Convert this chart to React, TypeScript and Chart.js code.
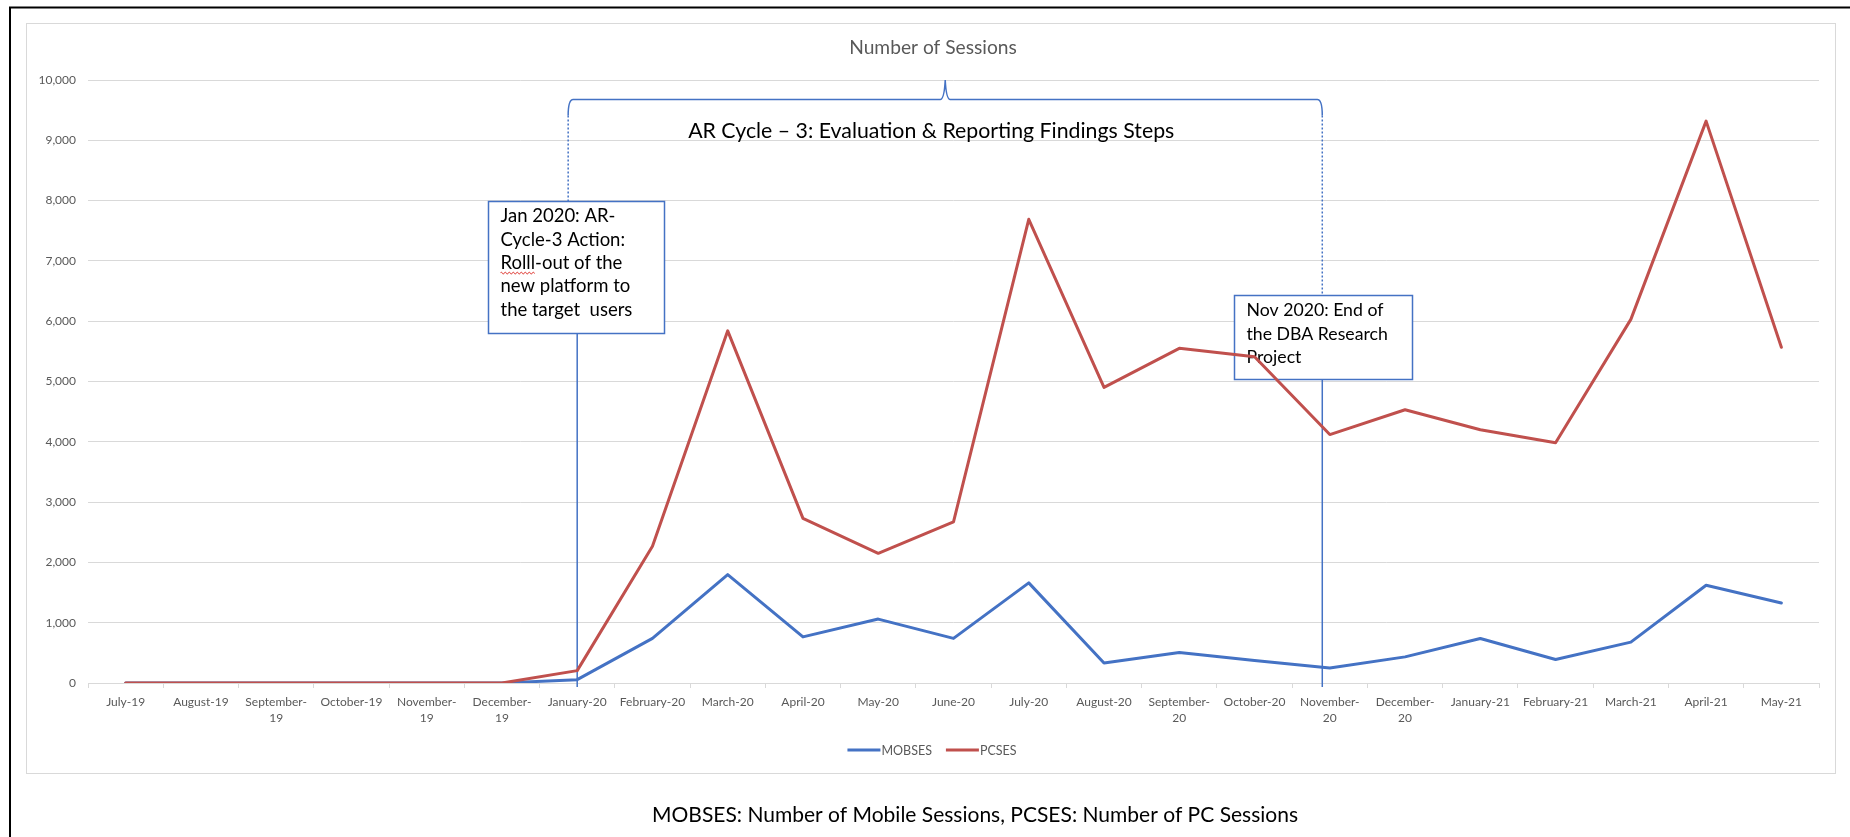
import React, { useEffect, useRef } from "react";
import { Chart, registerables } from "chart.js";

Chart.register(...registerables);

// Monthly categories (multi-line where the label wraps under the axis)
const months: (string | string[])[] = [
  "July-19", "August-19", ["September-", "19"], "October-19", ["November-", "19"], ["December-", "19"],
  "January-20", "February-20", "March-20", "April-20", "May-20", "June-20", "July-20", "August-20",
  ["September-", "20"], "October-20", ["November-", "20"], ["December-", "20"],
  "January-21", "February-21", "March-21", "April-21", "May-21",
];

// Mobile sessions per month
const mobses = [0, 0, 0, 0, 0, 0, 55, 740, 1797, 765, 1060, 740, 1660, 333, 505, 375, 250, 433, 739, 389, 678, 1621, 1328];
// PC sessions per month
const pcses = [0, 0, 0, 0, 0, 0, 205, 2268, 5840, 2730, 2150, 2672, 7690, 4902, 5550, 5410, 4120, 4531, 4199, 3984, 6030, 9318, 5568];

const seriesNames = ["MOBSES", "PCSES"];
const yMax = 10000;
const yStep = 1000;

const chartTitle = "Number of Sessions";
const caption = "MOBSES: Number of Mobile Sessions, PCSES: Number of PC Sessions";
const cycleLabel = "AR Cycle – 3: Evaluation & Reporting Findings Steps";
const rolloutNote = ["Jan 2020: AR-", "Cycle-3 Action:", "Rolll-out of the", "new platform to", "the target  users"];
const endNote = ["Nov 2020: End of", "the DBA Research", "Project"];

const FONT = "Lato, 'Open Sans', sans-serif";
const BLUE = "#4472C4";
const RED = "#C0504D";
const GRID = "#D9D9D9";
const TEXT_GRAY = "#595959";

const W = 1850;
const H = 837;

// Annotation anchors, in category index / value space
const rolloutBox = { left: 4.81, right: 7.15, top: 8000, bottom: 5810, line: 6, stem: 5.88, fontSize: 18.5, firstOffset: 15 };
const endBox = { left: 14.73, right: 17.09, top: 6440, bottom: 5040, line: 15.9, stem: 15.9, fontSize: 17.7, firstOffset: 15 };
const bracketLevel = 9680;

const pagePlugin = {
  id: "pageDecor",
  beforeDraw(chart: any) {
    const ctx = chart.ctx as CanvasRenderingContext2D;
    ctx.save();
    ctx.fillStyle = "#fff";
    ctx.fillRect(0, 0, W, H);

    // outer black border (top and left edges)
    ctx.strokeStyle = "#000";
    ctx.lineWidth = 2;
    ctx.beginPath();
    ctx.moveTo(W, 7.5);
    ctx.lineTo(10, 7.5);
    ctx.lineTo(10, H);
    ctx.stroke();

    // chart frame
    ctx.strokeStyle = GRID;
    ctx.lineWidth = 1;
    ctx.strokeRect(26.5, 23.5, 1809, 750);

    // title
    ctx.fillStyle = TEXT_GRAY;
    ctx.font = `19.2px ${FONT}`;
    ctx.textAlign = "center";
    ctx.textBaseline = "middle";
    ctx.fillText(chartTitle, 933, 48);

    // caption under the chart
    ctx.fillStyle = "#000";
    ctx.font = `21px ${FONT}`;
    ctx.fillText(caption, 975, 815);

    // legend built from the datasets
    const ds = chart.data.datasets;
    ctx.font = `12.5px ${FONT}`;
    const sw = 33, gap = 1, itemGap = 14;
    const widths = ds.map((d: any) => sw + gap + ctx.measureText(d.label).width);
    const total = widths.reduce((a: number, b: number) => a + b, 0) + itemGap * (ds.length - 1);
    let lx = 932 - total / 2;
    const ly = 750;
    ctx.textAlign = "left";
    ds.forEach((d: any, i: number) => {
      ctx.strokeStyle = d.borderColor;
      ctx.lineWidth = 3;
      ctx.beginPath();
      ctx.moveTo(lx, ly);
      ctx.lineTo(lx + sw, ly);
      ctx.stroke();
      ctx.fillStyle = TEXT_GRAY;
      ctx.fillText(d.label, lx + sw + gap, ly + 0.5);
      lx += widths[i] + itemGap;
    });
    ctx.restore();
  },
  beforeDatasetsDraw(chart: any) {
    const ctx = chart.ctx as CanvasRenderingContext2D;
    const xs = chart.scales.x;
    const ys = chart.scales.y;
    const x = (v: number) => xs.getPixelForValue(v);
    const y = (v: number) => ys.getPixelForValue(v);
    const y0 = y(0) + 4;
    ctx.save();

    const drawBox = (b: typeof rolloutBox, lines: string[]) => {
      const l = Math.round(x(b.left)) + 0.5;
      const r = Math.round(x(b.right)) + 0.5;
      const t = Math.round(y(b.top)) + 0.5;
      const bt = Math.round(y(b.bottom)) + 0.5;
      ctx.fillStyle = "#fff";
      ctx.fillRect(l, t, r - l, bt - t);
      ctx.strokeStyle = BLUE;
      ctx.lineWidth = 1.5;
      ctx.strokeRect(l, t, r - l, bt - t);
      ctx.fillStyle = "#000";
      ctx.font = `${b.fontSize}px ${FONT}`;
      ctx.textAlign = "left";
      ctx.textBaseline = "middle";
      lines.forEach((s, i) => ctx.fillText(s, l + 12, t + b.firstOffset + i * 23.3));
      return { l, r, t, b: bt };
    };

    const b1 = drawBox(rolloutBox, rolloutNote);
    const b2 = drawBox(endBox, endNote);

    // spell-check squiggle under "Rolll"
    ctx.font = `${rolloutBox.fontSize}px ${FONT}`;
    const sqW = ctx.measureText("Rolll").width;
    const sqX = b1.l + 12;
    const sqY = b1.t + rolloutBox.firstOffset + 2 * 23.3 + 10;
    ctx.strokeStyle = "#E0403A";
    ctx.lineWidth = 1;
    ctx.beginPath();
    for (let px = 0; px <= sqW; px += 1) {
      const yy = sqY + (Math.floor(px / 2) % 2 === 0 ? -1 : 1) * ((px % 2) * 0.5 + 0.5);
      if (px === 0) ctx.moveTo(sqX + px, yy);
      else ctx.lineTo(sqX + px, yy);
    }
    ctx.stroke();

    // solid drop lines from the notes to the axis
    ctx.strokeStyle = BLUE;
    ctx.lineWidth = 1.5;
    ctx.beginPath();
    ctx.moveTo(x(rolloutBox.line), b1.b);
    ctx.lineTo(x(rolloutBox.line), y0);
    ctx.moveTo(x(endBox.line), b2.b);
    ctx.lineTo(x(endBox.line), y0);
    ctx.stroke();

    // curly bracket spanning the cycle
    const xl = x(rolloutBox.stem);
    const xr = x(endBox.stem);
    const xm = (xl + xr) / 2;
    const yb = Math.round(y(bracketLevel)) + 0.5;
    const yp = y(yMax);
    const curl = 16;
    ctx.lineWidth = 1.5;
    ctx.beginPath();
    ctx.moveTo(xl, yb + curl);
    ctx.quadraticCurveTo(xl, yb, xl + 5, yb);
    ctx.lineTo(xm - 5, yb);
    ctx.quadraticCurveTo(xm - 1, yb, xm, yp);
    ctx.quadraticCurveTo(xm + 1, yb, xm + 5, yb);
    ctx.lineTo(xr - 5, yb);
    ctx.quadraticCurveTo(xr, yb, xr, yb + curl);
    ctx.stroke();

    // dotted stems from bracket to the note boxes
    ctx.setLineDash([2, 2]);
    ctx.beginPath();
    ctx.moveTo(xl, yb + curl);
    ctx.lineTo(xl, b1.t);
    ctx.moveTo(xr, yb + curl);
    ctx.lineTo(xr, b2.t);
    ctx.stroke();
    ctx.setLineDash([]);

    // bracket label
    ctx.fillStyle = "#000";
    ctx.font = `21.3px ${FONT}`;
    ctx.textAlign = "center";
    ctx.textBaseline = "middle";
    ctx.fillText(cycleLabel, xm - 14, y(9160));
    ctx.restore();
  },
};

export default function App() {
  const ref = useRef<HTMLCanvasElement | null>(null);

  useEffect(() => {
    if (!ref.current) return;
    const chart = new Chart(ref.current, {
      type: "line",
      data: {
        labels: months as any,
        datasets: [
          { label: seriesNames[0], data: mobses, borderColor: BLUE, backgroundColor: BLUE, order: 1 },
          { label: seriesNames[1], data: pcses, borderColor: RED, backgroundColor: RED, order: 0 },
        ],
      },
      options: {
        responsive: false,
        animation: false,
        devicePixelRatio: 1,
        layout: { padding: { left: 0, top: 80, right: 31, bottom: 104 } },
        plugins: {
          legend: { display: false },
          title: { display: false },
          tooltip: { enabled: false },
        },
        elements: {
          point: { radius: 0 },
          line: { tension: 0, borderWidth: 3, borderJoinStyle: "round", borderCapStyle: "round" },
        },
        scales: {
          x: {
            type: "category",
            offset: true,
            grid: { offset: true, drawOnChartArea: false, drawTicks: true, tickLength: 5, color: GRID },
            border: { display: true, color: GRID },
            ticks: {
              autoSkip: false,
              maxRotation: 0,
              minRotation: 0,
              color: TEXT_GRAY,
              padding: 6,
              font: { family: FONT, size: 12, lineHeight: 1.35 },
            },
            afterFit: (s: any) => {
              s.height = 50;
            },
          },
          y: {
            min: 0,
            max: yMax,
            ticks: {
              stepSize: yStep,
              color: TEXT_GRAY,
              padding: 12,
              font: { family: FONT, size: 12 },
              callback: (v: any) => Number(v).toLocaleString("en-US"),
            },
            grid: { color: GRID, drawTicks: false },
            border: { display: false },
            afterFit: (s: any) => {
              s.width = 88;
            },
          },
        },
      },
      plugins: [pagePlugin],
    });
    return () => chart.destroy();
  }, []);

  return (
    <canvas
      ref={ref}
      width={W}
      height={H}
      style={{ position: "absolute", left: 0, top: 0, display: "block", width: W, height: H }}
    />
  );
}
